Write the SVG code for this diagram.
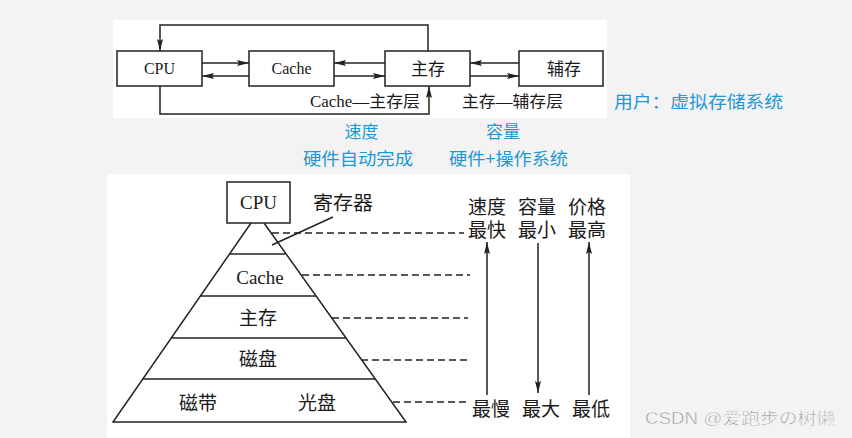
<svg xmlns="http://www.w3.org/2000/svg" width="852" height="438" viewBox="0 0 852 438">
<defs>
<style>
.bx{fill:#fff;stroke:#222;stroke-width:1.5}
.ln{fill:none;stroke:#222;stroke-width:1.5}
.ds{fill:none;stroke:#222;stroke-width:1.5;stroke-dasharray:7 4}
.ser{font-family:"Liberation Serif","Noto Sans CJK SC",serif;fill:#1a1a1a}
.cjk{font-family:"Noto Sans CJK SC",sans-serif;fill:#1a1a1a}
.blue{font-family:"Noto Sans CJK SC",sans-serif;fill:#1e97d4;font-size:17px}
</style>
<marker id="ah" viewBox="0 0 12 6" refX="12" refY="3" markerWidth="12" markerHeight="6" orient="auto" markerUnits="userSpaceOnUse"><path d="M0,0 L12,3 L0,6 L2,3 z" fill="#222"/></marker>
</defs>
<rect x="0" y="0" width="852" height="438" fill="#f3f3f3"/>
<rect x="113" y="20" width="494" height="98" fill="#fff"/>
<rect x="107" y="174" width="523" height="264" fill="#fff"/>

<g id="connectors">
<line class="ln" x1="202" y1="63" x2="249" y2="63" marker-end="url(#ah)"/>
<line class="ln" x1="249" y1="76" x2="202" y2="76" marker-end="url(#ah)"/>
<line class="ln" x1="385" y1="63" x2="334" y2="63" marker-end="url(#ah)"/>
<line class="ln" x1="334" y1="76" x2="385" y2="76" marker-end="url(#ah)"/>
<line class="ln" x1="519" y1="63" x2="470" y2="63" marker-end="url(#ah)"/>
<line class="ln" x1="470" y1="76" x2="519" y2="76" marker-end="url(#ah)"/>
<polyline class="ln" points="428,51 428,25 160,25 160,51" marker-end="url(#ah)"/>
<polyline class="ln" points="160,86 160,114 429,114 429,86" marker-end="url(#ah)"/>
<line class="ln" x1="333" y1="217" x2="272" y2="245"/>
<line class="ds" x1="272" y1="233" x2="464" y2="233"/>
<line class="ds" x1="302" y1="275" x2="470" y2="275"/>
<line class="ds" x1="332" y1="318" x2="468" y2="318"/>
<line class="ds" x1="361" y1="360" x2="467" y2="360"/>
<line class="ds" x1="393" y1="402" x2="468" y2="402"/>
<line class="ln" x1="487" y1="395" x2="487" y2="242" marker-end="url(#ah)"/>
<line class="ln" x1="538" y1="243" x2="538" y2="393" marker-end="url(#ah)"/>
<line class="ln" x1="589" y1="395" x2="589" y2="242" marker-end="url(#ah)"/>
</g>

<g id="cpu-top"><rect class="bx" x="117" y="51" width="85" height="35"/><text class="ser" x="159.5" y="74" font-size="16" text-anchor="middle">CPU</text></g>
<g id="cache-top"><rect class="bx" x="249" y="51" width="85" height="35"/><text class="ser" x="291.5" y="74" font-size="16" text-anchor="middle">Cache</text></g>
<g id="main-top"><rect class="bx" x="385" y="51" width="85" height="35"/><text class="cjk" x="428" y="75" font-size="17" text-anchor="middle">主存</text></g>
<g id="aux-top"><rect class="bx" x="519" y="51" width="84" height="35"/><text class="cjk" x="564" y="75" font-size="17" text-anchor="middle">辅存</text></g>

<g id="labels-top">
<text class="ser" x="310" y="107" font-size="16" textLength="110" lengthAdjust="spacingAndGlyphs">Cache—主存层</text>
<text class="ser" x="462" y="107" font-size="16" textLength="101" lengthAdjust="spacingAndGlyphs">主存—辅存层</text>
<text class="blue" x="614" y="108" textLength="169" lengthAdjust="spacingAndGlyphs">用户：虚拟存储系统</text>
<text class="blue" x="361.5" y="138" text-anchor="middle">速度</text>
<text class="blue" x="503" y="138" text-anchor="middle">容量</text>
<text class="blue" x="303" y="165" textLength="110" lengthAdjust="spacingAndGlyphs">硬件自动完成</text>
<text class="blue" x="449" y="165" textLength="119" lengthAdjust="spacingAndGlyphs">硬件+操作系统</text>
</g>

<g id="pyramid">
<polyline class="ln" points="251,223 113,422 406,422 264,223"/>
<line class="ln" x1="229.5" y1="254" x2="285.5" y2="254"/>
<line class="ln" x1="200.5" y1="296" x2="316" y2="296"/>
<line class="ln" x1="171.5" y1="338" x2="346" y2="338"/>
<line class="ln" x1="143" y1="379" x2="375" y2="379"/>
</g>
<g id="cpu-bottom"><rect class="bx" x="227" y="182" width="63" height="41"/><text class="ser" x="258.5" y="209" font-size="19" text-anchor="middle">CPU</text></g>
<g id="register"><text class="ser" x="313" y="210" font-size="19" textLength="60" lengthAdjust="spacingAndGlyphs">寄存器</text></g>
<g id="cache-layer"><text class="ser" x="260" y="284" font-size="19" text-anchor="middle">Cache</text></g>
<g id="main-layer"><text class="ser" x="258" y="325" font-size="19" text-anchor="middle">主存</text></g>
<g id="disk-layer"><text class="ser" x="258" y="366" font-size="19" text-anchor="middle">磁盘</text></g>
<g id="tape-layer"><text class="ser" x="198" y="410" font-size="19" text-anchor="middle">磁带</text><text class="ser" x="317" y="410" font-size="19" text-anchor="middle">光盘</text></g>

<g id="scales">
<text class="ser" x="487" y="214" font-size="19" text-anchor="middle">速度</text>
<text class="ser" x="487" y="237" font-size="19" text-anchor="middle">最快</text>
<text class="ser" x="491" y="416" font-size="19" text-anchor="middle">最慢</text>
<text class="ser" x="537" y="214" font-size="19" text-anchor="middle">容量</text>
<text class="ser" x="537" y="237" font-size="19" text-anchor="middle">最小</text>
<text class="ser" x="541" y="416" font-size="19" text-anchor="middle">最大</text>
<text class="ser" x="587" y="214" font-size="19" text-anchor="middle">价格</text>
<text class="ser" x="587" y="237" font-size="19" text-anchor="middle">最高</text>
<text class="ser" x="591" y="416" font-size="19" text-anchor="middle">最低</text>
</g>

<text x="645" y="424" font-family="'Liberation Sans','Noto Sans CJK SC',sans-serif" font-size="16" fill="#9a9a9a" stroke="#fff" stroke-width="0.4" textLength="190" lengthAdjust="spacingAndGlyphs">CSDN @爱跑步の树懒</text>
</svg>
